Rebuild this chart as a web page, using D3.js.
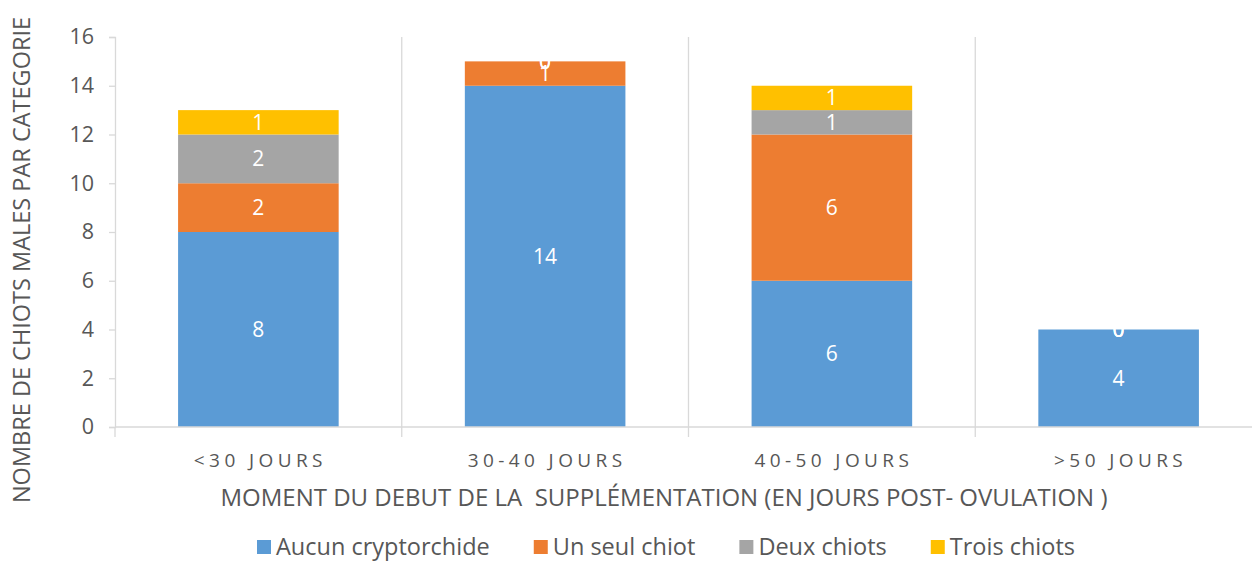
<!DOCTYPE html>
<html>
<head>
<meta charset="utf-8">
<script src="https://cdn.jsdelivr.net/npm/d3@7"></script>
<style>
  body { margin: 0; background: #fff; }
  svg { display: block; font-family: "Open Sans", sans-serif; }
</style>
</head>
<body>
<svg id="chart" width="1252" height="563"></svg>
<script>
// Données
const categories = ["<30 JOURS", "30-40 JOURS", "40-50 JOURS", ">50 JOURS"];
const seriesNames = ["Aucun cryptorchide", "Un seul chiot", "Deux chiots", "Trois chiots"];
const aucun = [8, 14, 6, 4];
const unSeul = [2, 1, 6, 0];
const deux = [2, 0, 1, 0];
const trois = [1, 0, 1, 0];
const yTicks = [0, 2, 4, 6, 8, 10, 12, 14, 16];
const colors = ["#5B9BD5", "#ED7D31", "#A5A5A5", "#FFC000"];

const svg = d3.select("#chart");
const textColor = "#575757";
const gridColor = "#D9D9D9";

// table pour d3.stack
const table = categories.map((c, i) => ({
    cat: c,
    [seriesNames[0]]: aucun[i],
    [seriesNames[1]]: unSeul[i],
    [seriesNames[2]]: deux[i],
    [seriesNames[3]]: trois[i]
}));
const stacked = d3.stack().keys(seriesNames)(table);

// Echelles (le graphique dépasse à droite, comme l'original)
const x = d3.scaleBand().domain(categories).range([115, 1262]).paddingInner(0.44).paddingOuter(0.22);
const y = d3.scaleLinear().domain([0, 16]).range([427, 37]);

// Grille verticale entre les catégories
const bounds = categories.map((c, i) => x(c) - x.step() * x.paddingInner() / 2);
svg.append("g")
    .selectAll("line")
    .data(bounds.slice(1))
    .join("line")
    .attr("x1", d => d).attr("x2", d => d)
    .attr("y1", y(16)).attr("y2", 437)
    .attr("stroke", gridColor)
    .attr("stroke-width", 1.3);

// Axe Y
const yAxis = svg.append("g")
    .attr("transform", "translate(115,0)")
    .call(d3.axisLeft(y).tickValues(yTicks).tickSize(6).tickPadding(15));
yAxis.select(".domain").attr("stroke", gridColor).attr("stroke-width", 1.3);
yAxis.selectAll(".tick line").attr("stroke", gridColor).attr("stroke-width", 1.3);
yAxis.selectAll(".tick text")
    .attr("fill", textColor)
    .attr("font-size", 21.5)
    .attr("font-family", "'Open Sans', sans-serif");

// Barres empilées
const layers = svg.append("g")
    .selectAll("g")
    .data(stacked)
    .join("g")
    .attr("fill", (d, i) => colors[i]);

layers.selectAll("rect")
    .data(d => d)
    .join("rect")
    .attr("x", d => x(d.data.cat))
    .attr("width", x.bandwidth())
    .attr("y", d => y(d[1]))
    .attr("height", d => y(d[0]) - y(d[1]));

// Axe X
svg.append("line")
    .attr("x1", 115).attr("x2", 1262)
    .attr("y1", y(0)).attr("y2", y(0))
    .attr("stroke", gridColor)
    .attr("stroke-width", 1.3);
svg.append("line")
    .attr("x1", 115).attr("x2", 115)
    .attr("y1", y(0)).attr("y2", 437)
    .attr("stroke", gridColor)
    .attr("stroke-width", 1.3);

svg.append("g")
    .selectAll("text")
    .data(categories)
    .join("text")
    .attr("x", d => x(d) + x.bandwidth() / 2 + 2)
    .attr("y", 467)
    .attr("text-anchor", "middle")
    .attr("fill", textColor)
    .attr("font-size", 19)
    .attr("letter-spacing", 4.4)
    .text(d => d);

// Etiquettes de valeurs
svg.append("g")
    .selectAll("g")
    .data(stacked)
    .join("g")
    .selectAll("text")
    .data(d => d)
    .join("text")
    .attr("x", d => x(d.data.cat) + x.bandwidth() / 2)
    .attr("y", d => y((d[0] + d[1]) / 2))
    .attr("dy", "0.36em")
    .attr("text-anchor", "middle")
    .attr("fill", "#fff")
    .attr("font-size", 21)
    .text(d => d[1] - d[0]);

// Titres des axes
svg.append("text")
    .attr("transform", "translate(30,260) rotate(-90)")
    .attr("text-anchor", "middle")
    .attr("fill", textColor)
    .attr("font-size", 23.5)
    .text("NOMBRE DE CHIOTS MALES PAR CATEGORIE");

svg.append("text")
    .attr("x", 664)
    .attr("y", 506)
    .attr("text-anchor", "middle")
    .attr("fill", textColor)
    .attr("font-size", 24)
    .style("white-space", "pre")
    .text("MOMENT DU DEBUT DE LA  SUPPLÉMENTATION (EN JOURS POST- OVULATION )");

// Légende, disposée à la suite et centrée
const legend = svg.append("g").attr("transform", "translate(0,547)");
const items = legend.selectAll("g")
    .data(seriesNames)
    .join("g");
items.append("rect")
    .attr("x", 0).attr("y", -7)
    .attr("width", 14).attr("height", 14)
    .attr("fill", (d, i) => colors[i]);
items.append("text")
    .attr("x", 19)
    .attr("dy", "0.36em")
    .attr("fill", textColor)
    .attr("font-size", 23.5)
    .text(d => d);

const gap = 44;
let cursor = 0;
const offsets = [];
items.each(function() {
    offsets.push(cursor);
    cursor += 19 + d3.select(this).select("text").node().getComputedTextLength() + gap;
});
const total = cursor - gap;
const start = 666 - total / 2;
items.attr("transform", (d, i) => `translate(${start + offsets[i]},0)`);
</script>
</body>
</html>
